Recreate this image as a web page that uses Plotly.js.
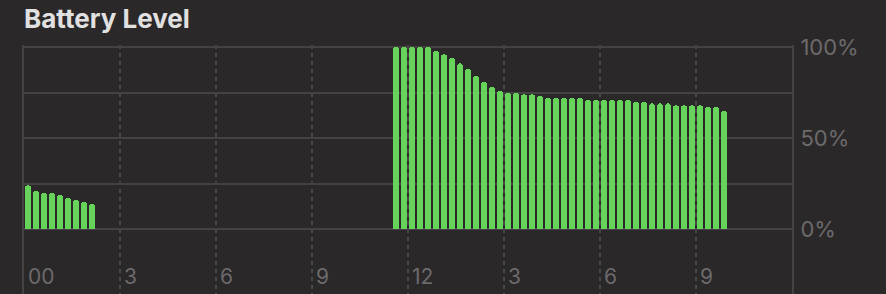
<!DOCTYPE html>
<html>
<head>
<meta charset="utf-8">
<script src="https://cdn.plot.ly/plotly-3.0.1.min.js"></script>
<style>
  html, body { margin: 0; padding: 0; background: #2a2829; }
  #chart { width: 886px; height: 294px; }
</style>
</head>
<body>
<div id="chart"></div>
<script>
// 15-minute battery samples: start time of each slot and the level (%)
const slotTimes = [
  "00:00", "00:15", "00:30", "00:45", "01:00", "01:15", "01:30", "01:45", "02:00",
  "11:30", "11:45", "12:00", "12:15", "12:30", "12:45", "13:00", "13:15", "13:30", "13:45",
  "14:00", "14:15", "14:30", "14:45", "15:00", "15:15", "15:30", "15:45", "16:00", "16:15",
  "16:30", "16:45", "17:00", "17:15", "17:30", "17:45", "18:00", "18:15", "18:30", "18:45",
  "19:00", "19:15", "19:30", "19:45", "20:00", "20:15", "20:30", "20:45", "21:00", "21:15",
  "21:30", "21:45"
];
const batteryLevel = [
  24, 21, 20, 20, 19, 17, 16, 15, 14,
  100, 100, 100, 100, 100, 98, 96, 94, 91, 88,
  84, 81, 78, 76, 75, 75, 74, 74, 73, 72,
  72, 72, 72, 72, 71, 71, 71, 71, 71, 71,
  70, 70, 69, 69, 69, 68, 68, 68, 68, 67,
  67, 65
];

// Axis ticks
const hourTicks = [0, 3, 6, 9, 12, 15, 18, 21];
const hourTickText = ["00", "3", "6", "9", "12", "3", "6", "9"];
const levelTicks = [0, 25, 50, 75, 100];
const levelTickText = ["0%", "", "50%", "", "100%"];

const toHours = t => { const [h, m] = t.split(":").map(Number); return h + m / 60; };

const gridColor = "#444243";
const dashColor = "#4a4849";
const labelColor = "#6c6a6b";

const trace = {
  type: "bar",
  x: slotTimes.map(toHours),
  y: batteryLevel,
  width: 0.1875,
  offset: 0.03125,
  marker: { color: "#66d45b", cornerradius: 3, line: { width: 0 } },
  hoverinfo: "skip"
};

const layout = {
  width: 886,
  height: 294,
  paper_bgcolor: "#2a2829",
  plot_bgcolor: "#2a2829",
  margin: { l: 24, r: 94, t: 45, b: 0 },
  showlegend: false,
  bargap: 0,
  font: { family: "Inter, 'Open Sans', sans-serif", color: labelColor },
  title: {
    text: "Battery Level",
    font: { family: "Inter, 'Open Sans', sans-serif", size: 26, color: "#e2e1e1", weight: 700 },
    x: 24 / 886, xanchor: "left", xref: "container",
    y: 1 - 10 / 294, yanchor: "top", yref: "container"
  },
  xaxis: {
    range: [0, 24],
    tickvals: hourTicks,
    ticktext: hourTickText,
    ticks: "",
    ticklabelposition: "inside right",
    ticklabelshift: 4,
    ticklabelstandoff: 0,
    tickfont: { size: 21, color: labelColor },
    showgrid: true,
    gridcolor: dashColor,
    gridwidth: 2,
    griddash: "4px,4px",
    zeroline: false,
    showline: false,
    fixedrange: true
  },
  yaxis: {
    side: "right",
    range: [-35.7, 101.1],
    tickvals: levelTicks,
    ticktext: levelTickText,
    ticks: "",
    ticklabelstandoff: 2,
    tickfont: { size: 22, color: labelColor },
    showgrid: true,
    gridcolor: gridColor,
    gridwidth: 2,
    zeroline: false,
    showline: true,
    mirror: true,
    linecolor: gridColor,
    linewidth: 2,
    fixedrange: true
  }
};

Plotly.newPlot("chart", [trace], layout, { displayModeBar: false, staticPlot: true });
</script>
</body>
</html>
